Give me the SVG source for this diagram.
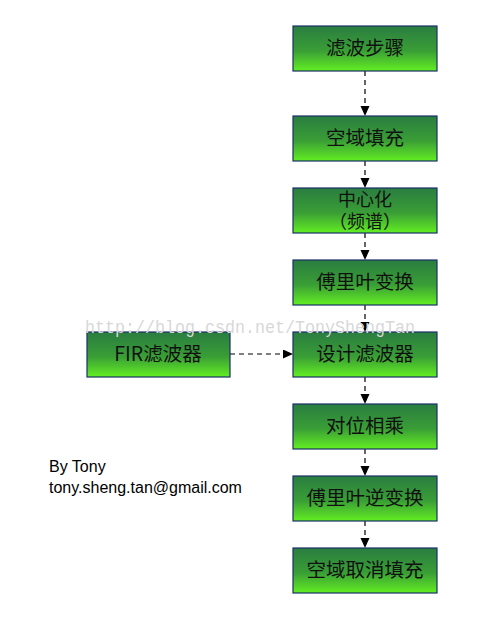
<svg xmlns="http://www.w3.org/2000/svg" width="480" height="640" viewBox="0 0 480 640">
<defs>
<linearGradient id="g" x1="0" y1="0" x2="0" y2="1">
<stop offset="0" stop-color="#2a7d40"/>
<stop offset="0.55" stop-color="#3a9e36"/>
<stop offset="1" stop-color="#62ee22"/>
</linearGradient>
<marker id="ah" markerWidth="10" markerHeight="10" refX="9" refY="4.5" orient="auto" markerUnits="userSpaceOnUse">
<path d="M0,0 L10,4.5 L0,9 Z" fill="#000"/>
</marker>
<style>
.box{fill:url(#g);stroke:#1c2f66;stroke-width:1.2}
.t{font-family:"Noto Sans CJK SC","Liberation Sans",sans-serif;font-size:19.5px;fill:#111;text-anchor:middle}
.s{font-size:18px}
.c{stroke:#000;stroke-width:1.2;stroke-dasharray:5,4;fill:none;marker-end:url(#ah)}
.a{font-family:"Liberation Sans",Arial,sans-serif;font-size:16px;fill:#000}
.w{font-family:"Liberation Mono","DejaVu Sans Mono",monospace;font-size:19px;fill:#d8d8d8}
</style>
</defs>
<rect width="480" height="640" fill="#fff"/>
<g id="connectors">
<line class="c" x1="365" y1="71" x2="365" y2="115"/>
<line class="c" x1="365" y1="161" x2="365" y2="187"/>
<line class="c" x1="365" y1="233" x2="365" y2="259"/>
<line class="c" x1="365" y1="305" x2="365" y2="331"/>
<line class="c" x1="365" y1="377" x2="365" y2="403"/>
<line class="c" x1="365" y1="449" x2="365" y2="475"/>
<line class="c" x1="365" y1="521" x2="365" y2="547"/>
<line class="c" x1="230" y1="354" x2="292" y2="354"/>
</g>
<g id="n1"><rect class="box" x="293" y="26" width="144" height="45"/><text class="t" x="365" y="55">滤波步骤</text></g>
<g id="n2"><rect class="box" x="293" y="116" width="144" height="45"/><text class="t" x="365" y="145">空域填充</text></g>
<g id="n3"><rect class="box" x="293" y="188" width="144" height="45"/><text class="t s" x="365" y="206">中心化</text><text class="t s" x="365" y="228">（频谱）</text></g>
<g id="n4"><rect class="box" x="293" y="260" width="144" height="45"/><text class="t" x="365" y="289">傅里叶变换</text></g>
<g id="n5"><rect class="box" x="293" y="332" width="144" height="45"/><text class="t" x="365" y="361">设计滤波器</text></g>
<g id="nfir"><rect class="box" x="87" y="332" width="143" height="45"/><text class="t" x="158" y="361">FIR滤波器</text></g>
<g id="n6"><rect class="box" x="293" y="404" width="144" height="45"/><text class="t" x="365" y="433">对位相乘</text></g>
<g id="n7"><rect class="box" x="293" y="476" width="144" height="45"/><text class="t" x="365" y="505">傅里叶逆变换</text></g>
<g id="n8"><rect class="box" x="293" y="548" width="144" height="45"/><text class="t" x="365" y="577">空域取消填充</text></g>
<text class="w" x="85" y="333" textLength="330" lengthAdjust="spacingAndGlyphs">http://blog.csdn.net/TonyShengTan</text>
<text class="a" x="49" y="472">By Tony</text>
<text class="a" x="49" y="493">tony.sheng.tan@gmail.com</text>
</svg>
